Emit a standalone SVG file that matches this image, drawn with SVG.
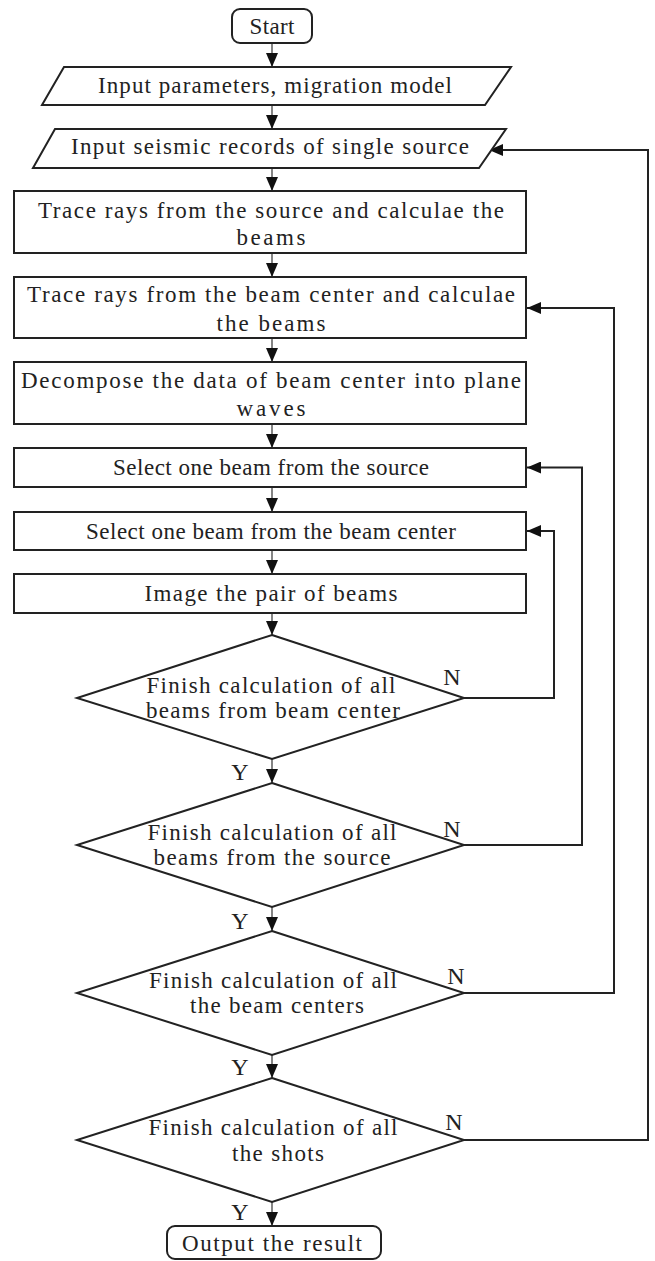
<svg xmlns="http://www.w3.org/2000/svg" width="655" height="1261" viewBox="0 0 655 1261">
<style>
.box{fill:#fff;stroke:#222;stroke-width:2}
.t{font-family:"Liberation Serif","Times New Roman",serif;font-size:23px;fill:#222;text-anchor:middle}
.lbl{font-family:"Liberation Serif","Times New Roman",serif;font-size:24px;fill:#222;text-anchor:middle}
.c{fill:none;stroke:#333;stroke-width:1.2}
.fb{fill:none;stroke:#222;stroke-width:2}
</style>
<defs>
<marker id="ah" markerUnits="userSpaceOnUse" markerWidth="14" markerHeight="12" refX="14" refY="6" orient="auto">
<path d="M0,0 L14,6 L0,12 z" fill="#111"/>
</marker>
</defs>
<rect width="655" height="1261" fill="#fff"/>
<g id="connectors">
<path class="c" d="M272,43 V67" marker-end="url(#ah)"/>
<path class="c" d="M272,105 V129" marker-end="url(#ah)"/>
<path class="c" d="M272,168 V191" marker-end="url(#ah)"/>
<path class="c" d="M272,253 V277" marker-end="url(#ah)"/>
<path class="c" d="M272,338 V362" marker-end="url(#ah)"/>
<path class="c" d="M272,424 V448" marker-end="url(#ah)"/>
<path class="c" d="M272,487 V512" marker-end="url(#ah)"/>
<path class="c" d="M272,550 V574" marker-end="url(#ah)"/>
<path class="c" d="M272,613 V635" marker-end="url(#ah)"/>
<path class="c" d="M272,759 V783" marker-end="url(#ah)"/>
<path class="c" d="M272,907 V931" marker-end="url(#ah)"/>
<path class="c" d="M272,1055 V1078" marker-end="url(#ah)"/>
<path class="c" d="M272,1202 V1226" marker-end="url(#ah)"/>
<path class="fb" d="M464,698 H554 V531 H527" marker-end="url(#ah)"/>
<path class="fb" d="M464,845 H582 V467.5 H527" marker-end="url(#ah)"/>
<path class="fb" d="M464,993 H614 V308 H527" marker-end="url(#ah)"/>
<path class="fb" d="M464,1140 H648 V150 H489" marker-end="url(#ah)"/>
<text class="lbl" x="452" y="685">N</text>
<text class="lbl" x="452" y="837">N</text>
<text class="lbl" x="456" y="984">N</text>
<text class="lbl" x="454" y="1130">N</text>
<text class="lbl" x="240" y="780">Y</text>
<text class="lbl" x="240" y="929">Y</text>
<text class="lbl" x="240" y="1075">Y</text>
<text class="lbl" x="240" y="1220">Y</text>
</g>
<g id="start">
<rect class="box" x="232" y="9" width="80" height="34" rx="8"/>
<text class="t" x="272" y="34" textLength="45">Start</text>
</g>
<g id="input-params">
<polygon class="box" points="64,67 511,67 485,105 42,105"/>
<text class="t" x="275" y="93" textLength="354" lengthAdjust="spacing">Input parameters, migration model</text>
</g>
<g id="input-records">
<polygon class="box" points="55,129 506,129 479,168 33,168"/>
<text class="t" x="270" y="154" textLength="398" lengthAdjust="spacing">Input seismic records of single source</text>
</g>
<g id="trace-source">
<rect class="box" x="14" y="191" width="512" height="62"/>
<text class="t" x="271" y="218" textLength="466" lengthAdjust="spacing">Trace rays from the source and calculae the</text>
<text class="t" x="271" y="245" textLength="69" lengthAdjust="spacing">beams</text>
</g>
<g id="trace-center">
<rect class="box" x="14" y="277" width="512" height="61"/>
<text class="t" x="271" y="302" textLength="488" lengthAdjust="spacing">Trace rays from the beam center and calculae</text>
<text class="t" x="271" y="331" textLength="109" lengthAdjust="spacing">the beams</text>
</g>
<g id="decompose">
<rect class="box" x="14" y="362" width="512" height="62"/>
<text class="t" x="271" y="388" textLength="500" lengthAdjust="spacing">Decompose the data of beam center into plane</text>
<text class="t" x="271" y="416" textLength="69" lengthAdjust="spacing">waves</text>
</g>
<g id="select-source">
<rect class="box" x="14" y="448" width="512" height="39"/>
<text class="t" x="271" y="475" textLength="316" lengthAdjust="spacing">Select one beam from the source</text>
</g>
<g id="select-center">
<rect class="box" x="14" y="512" width="512" height="38"/>
<text class="t" x="271" y="539" textLength="370" lengthAdjust="spacing">Select one beam from the beam center</text>
</g>
<g id="image-pair">
<rect class="box" x="14" y="574" width="512" height="39"/>
<text class="t" x="271" y="601" textLength="253" lengthAdjust="spacing">Image the pair of beams</text>
</g>
<g id="finish-center-beams">
<polygon class="box" points="272,635 464,698 272,759 77,698"/>
<text class="t" x="271" y="693" textLength="249" lengthAdjust="spacing">Finish calculation of all</text>
<text class="t" x="273" y="718" textLength="254" lengthAdjust="spacing">beams from beam center</text>
</g>
<g id="finish-source-beams">
<polygon class="box" points="272,783 464,845 272,907 77,845"/>
<text class="t" x="272" y="840" textLength="249" lengthAdjust="spacing">Finish calculation of all</text>
<text class="t" x="272" y="865" textLength="237" lengthAdjust="spacing">beams from the source</text>
</g>
<g id="finish-centers">
<polygon class="box" points="272,931 464,993 272,1055 77,993"/>
<text class="t" x="273" y="988" textLength="248" lengthAdjust="spacing">Finish calculation of all</text>
<text class="t" x="277" y="1013" textLength="174" lengthAdjust="spacing">the beam centers</text>
</g>
<g id="finish-shots">
<polygon class="box" points="272,1078 464,1140 272,1202 77,1140"/>
<text class="t" x="273" y="1135" textLength="249" lengthAdjust="spacing">Finish calculation of all</text>
<text class="t" x="278" y="1161" textLength="92" lengthAdjust="spacing">the shots</text>
</g>
<g id="output">
<rect class="box" x="167" y="1226" width="214" height="33" rx="8"/>
<text class="t" x="272" y="1251" textLength="180" lengthAdjust="spacing">Output the result</text>
</g>
</svg>
